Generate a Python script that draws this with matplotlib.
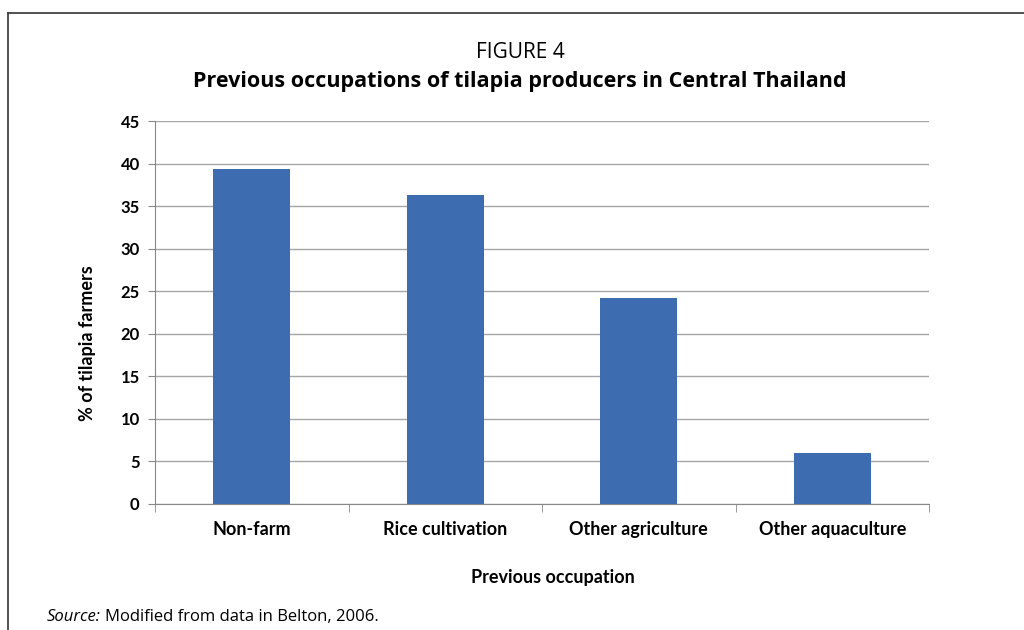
import matplotlib
matplotlib.use("Agg")
import matplotlib.pyplot as plt
from matplotlib.lines import Line2D

categories = ["Non-farm", "Rice cultivation", "Other agriculture", "Other aquaculture"]
values = [39.4, 36.3, 24.2, 6.0]
yticks = [0, 5, 10, 15, 20, 25, 30, 35, 40, 45]

plt.rcParams['font.family'] = ['Lato', 'DejaVu Sans']

fig = plt.figure(figsize=(10.24, 6.3), dpi=100)
W, H = 1024, 630
ax = fig.add_axes([155 / W, 1 - 504 / H, (929 - 155) / W, (504 - 121) / H])

x = list(range(len(categories)))
ax.bar(x, values, width=0.4, color="#3D6DB0", zorder=3)
ax.set_xlim(-0.5, len(categories) - 0.5)
ax.set_ylim(0, 45)
ax.set_yticks(yticks)
ax.set_yticklabels([str(t) for t in yticks], fontsize=12, fontweight='bold')
ax.set_xticks(x)
ax.set_xticklabels(categories, fontsize=13, fontweight='bold')
ax.tick_params(axis='x', length=0, pad=12)
ax.tick_params(axis='y', length=5, color='#888888', pad=6)
ax.set_xticks([i - 0.5 for i in range(len(categories) + 1)], minor=True)
ax.tick_params(axis='x', which='minor', length=6, color='#888888', direction='out')
ax.grid(axis='y', color='#A6A6A6', linewidth=1, zorder=0)
for s in ['top', 'right']:
    ax.spines[s].set_visible(False)
for s in ['left', 'bottom']:
    ax.spines[s].set_color('#888888')

fig.text(88 / W, 1 - 343 / H, "% of tilapia farmers", rotation=90, ha='center', va='center',
         fontsize=13, fontweight='bold')
fig.text(553 / W, 1 - 577 / H, "Previous occupation", ha='center', va='center',
         fontsize=13, fontweight='bold')

fig.text(520 / W, 1 - 53 / H, "FIGURE 4", ha='center', va='center', fontsize=15,
         family=['Open Sans', 'DejaVu Sans'])
fig.text(520 / W, 1 - 82 / H, "Previous occupations of tilapia producers in Central Thailand",
         ha='center', va='center', fontsize=15.5, fontweight='bold', family=['Open Sans', 'DejaVu Sans'])
fig.text(47 / W, 1 - 617 / H, "Source:", ha='left', va='center', fontsize=12, style='italic',
         family=['Open Sans', 'DejaVu Sans'])
fig.text(105 / W, 1 - 617 / H, "Modified from data in Belton, 2006.", ha='left', va='center', fontsize=12,
         family=['Open Sans', 'DejaVu Sans'])

fig.add_artist(Line2D([7.5 / W, 7.5 / W], [0, 1 - 12.5 / H], color='#333333', lw=1.2, transform=fig.transFigure))
fig.add_artist(Line2D([7.5 / W, 1], [1 - 12.5 / H, 1 - 12.5 / H], color='#333333', lw=1.2, transform=fig.transFigure))

fig.savefig("out.png", dpi=100)
